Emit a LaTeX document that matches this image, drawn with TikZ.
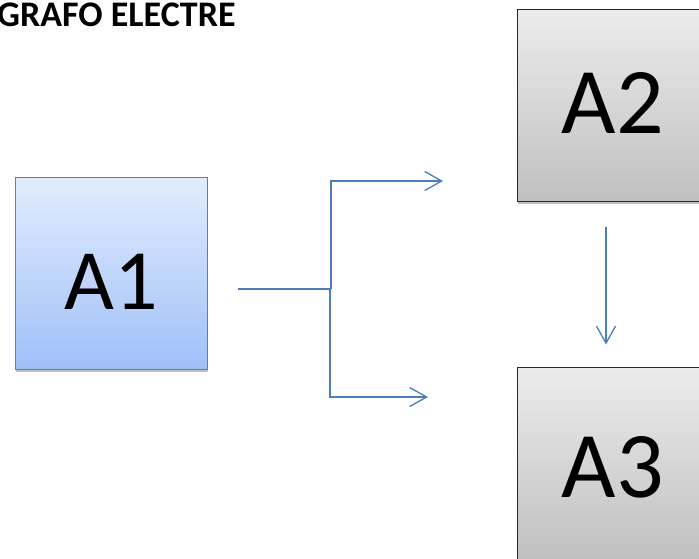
\documentclass[tikz,border=0pt]{standalone}
\usepackage{fontspec}
\setmainfont{Carlito}
\usetikzlibrary{arrows.meta,shadows}

\definecolor{linkblue}{RGB}{74,126,187}
\definecolor{altblue}{RGB}{79,129,189}
\definecolor{bluetop}{RGB}{226,236,254}
\definecolor{bluebot}{RGB}{160,192,248}
\definecolor{graytop}{RGB}{236,236,236}
\definecolor{graybot}{RGB}{192,192,192}

\tikzset{
  alt/.style={minimum size=192pt,inner sep=0pt,text depth=0pt,
    drop shadow={shadow xshift=1pt,shadow yshift=-3pt,opacity=0.25,fill=black}},
  altfirst/.style={alt,draw=altblue,line width=1pt,top color=bluetop,bottom color=bluebot,
    font=\fontsize{86}{90}\selectfont},
  altrest/.style={alt,draw=black!85,line width=1pt,top color=graytop,bottom color=graybot,
    font=\fontsize{94}{98}\selectfont},
  link/.style={draw=linkblue,line width=1.3pt,-{Straight Barb[length=17pt,width=19pt]}}
}

\begin{document}
\begin{tikzpicture}[x=1pt,y=-1pt]
  \useasboundingbox (0,0) rectangle (699,558);
  \clip (0,0) rectangle (699,558);
  % title
  \node[anchor=base west,inner sep=0pt,font=\fontsize{36}{40}\selectfont\bfseries] (title) at (-3,26) {GRAFO ELECTRE};
  % alternatives
  \node[altfirst,text height=72pt] (A1) at (111,273) {A1};
  \node[altrest,text height=56pt] (A2) at (613,105) {A2};
  \node[altrest,text height=68pt] (A3) at (613,463) {A3};
  % fork from A1
  \coordinate (tail) at ([xshift=30pt,yshift=-16pt]A1.east);
  \coordinate (fork) at (331,289);
  \coordinate (upEnd) at (443,181);
  \coordinate (lowEnd) at (428,397);
  \draw[draw=linkblue,line width=1.8pt] (tail) -- (fork);
  \draw[link] (fork) |- (upEnd);
  \draw[link] ([xshift=-1pt]fork) |- (lowEnd);
  % A2 to A3
  \draw[link,shorten <=25pt,shorten >=22pt] ([xshift=-7pt]A2.south) -- ([xshift=-7pt]A3.north);
\end{tikzpicture}
\end{document}
